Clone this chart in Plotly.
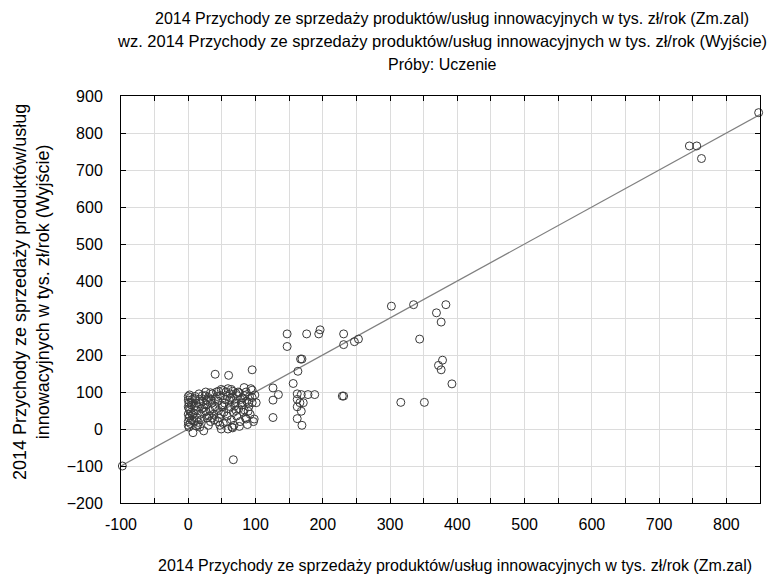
import plotly.graph_objects as go

out_x = [848, 745, 756, 763, -98,
         302, 335, 383, 369, 376, 344, 378, 372, 376, 392, 316, 351,
         147, 176, 196, 194, 231, 147, 231, 247, 253,
         167, 169, 163, 156, 95, 126, 134, 126, 126, 98, 95, 95, 101,
         162, 168, 178, 188, 162, 166, 171, 162, 168, 162, 169, 229, 231,
         40, 60, 49, 59, 64, 83, 93, 76, 90, 81, 86, 89,
         7, 23, 17, 49, 59, 66, 76, 67]
out_y = [855, 765, 765, 731, -100,
         332, 336, 336, 314, 289, 243, 186, 172, 160, 122, 72, 72,
         257, 257, 268, 257, 257, 223, 228, 236, 243,
         189, 189, 156, 123, 160, 111, 93, 78, 31, 27, 105, 71, 71,
         95, 93, 93, 93, 80, 71, 71, 60, 48, 28, 10, 89, 89,
         148, 145, 107, 109, 107, 112, 109, 98, 72, 84, 27, 48,
         -10, -5, 5, 0, 0, 3, 7, -83]

cluster_x = [0, 0, 1, 0, 2, 0, 1, 0, 3, 2, 5, 4, 5, 3, 6, 1, 2, 0, 1, 4,
             10, 12, 11, 13, 15, 14, 17, 18, 16, 19, 20, 12, 22, 9, 8, 21,
             25, 27, 24, 28, 30, 32, 33, 35, 36, 38, 40, 30, 26, 34, 39, 37, 29, 31,
             42, 44, 45, 46, 48, 50, 52, 53, 55, 56, 58, 60, 47, 57, 54, 49, 43, 51,
             62, 63, 64, 66, 67, 68, 70, 72, 74, 75, 77, 78, 65, 73, 69, 71,
             80, 82, 84, 85, 87, 88, 90, 92, 95, 97, 83, 79,
             6, 8, 14, 23, 26, 41, 44, 61, 58, 36, 18, 10,
             52, 66, 71, 86, 91, 99, 33, 45, 27, 63]
cluster_y = [10, 20, 30, 40, 50, 60, 70, 78, 85, 92, 25, 45, 65, 15, 80, 55, 35, 88, 5, 72,
             88, 70, 50, 30, 18, 60, 80, 40, 95, 25, 55, 8, 75, 62, 42, 90,
             90, 65, 45, 30, 85, 50, 20, 70, 95, 40, 60, 10, 100, 80, 25, 55, 75, 35,
             100, 75, 50, 30, 90, 65, 15, 45, 80, 100, 35, 55, 10, 20, 70, 40, 88, 60,
             95, 60, 25, 85, 45, 10, 70, 35, 100, 55, 20, 80, 5, 90, 62, 50,
             65, 45, 90, 30, 75, 12, 60, 40, 85, 20, 52, 70,
             38, 22, 12, 58, 48, 82, 20, 78, 88, 30, 68, 82,
             104, 102, 96, 100, 88, 92, 98, 102, 78, 84]

fit_x = [-100, 850]
fit_y = [-100, 850]

x_ticks = list(range(-100, 851, 50))
x_labels = [str(v) if v % 100 == 0 else "" for v in x_ticks]
y_ticks = list(range(-200, 901, 100))

title_lines = [
    "2014 Przychody ze sprzedaży produktów/usług innowacyjnych w tys. zł/rok (Zm.zal)",
    "wz. 2014 Przychody ze sprzedaży produktów/usług innowacyjnych w tys. zł/rok (Wyjście)",
    "Próby: Uczenie",
]
x_title = "2014 Przychody ze sprzedaży produktów/usług innowacyjnych w tys. zł/rok (Zm.zal)"
y_title = "2014 Przychody ze sprzedaży produktów/usług<br>innowacyjnych w tys. zł/rok (Wyjście)"

FONT = "Liberation Sans, Arial, sans-serif"
TXT = 16

fig = go.Figure()
fig.add_trace(go.Scatter(x=fit_x, y=fit_y, mode="lines",
                         line=dict(color="#808080", width=1.3),
                         hoverinfo="skip", showlegend=False))
fig.add_trace(go.Scatter(x=out_x + cluster_x, y=out_y + cluster_y, mode="markers",
                         marker=dict(symbol="circle-open", size=8,
                                     color="#3a3a3a", line=dict(width=1)),
                         cliponaxis=False, showlegend=False))

W, H = 771, 581
L, R, T, B = 121, 11, 96, 78
pw, ph = W - L - R, H - T - B

axis_common = dict(showline=True, linecolor="black", linewidth=1, mirror="ticks",
                   ticks="inside", ticklen=5, tickcolor="black",
                   showgrid=True, gridcolor="#dcdcdc", gridwidth=1, zeroline=False,
                   tickfont=dict(family=FONT, size=16, color="black"))

fig.update_xaxes(range=[-100, 850], tickmode="array", tickvals=x_ticks,
                 ticktext=x_labels, ticklabelstandoff=7, **axis_common)
fig.update_yaxes(range=[-200, 900], tickmode="array", tickvals=y_ticks,
                 ticklabelstandoff=14, **axis_common)


def px_x(p):
    return (p - L) / pw


def px_y(p):
    return (T + ph - p) / ph


annotations = []
title_cx = [452, 442, 442]
title_sz = [16, 16.5, 16]
for i, line in enumerate(title_lines):
    annotations.append(dict(text=line, xref="paper", yref="paper",
                            x=px_x(title_cx[i]), y=px_y(18 + 23 * i),
                            xanchor="center", yanchor="middle", showarrow=False,
                            font=dict(family=FONT, size=title_sz[i], color="black")))
annotations.append(dict(text=x_title, xref="paper", yref="paper",
                        x=px_x(455), y=px_y(565),
                        xanchor="center", yanchor="middle", showarrow=False,
                        font=dict(family=FONT, size=TXT, color="black")))
annotations.append(dict(text=y_title, xref="paper", yref="paper",
                        x=px_x(31), y=px_y(292), textangle=-90,
                        xanchor="center", yanchor="middle", showarrow=False,
                        font=dict(family=FONT, size=18, color="black")))

fig.update_layout(width=W, height=H, margin=dict(l=L, r=R, t=T, b=B),
                  paper_bgcolor="white", plot_bgcolor="white",
                  annotations=annotations, showlegend=False)

fig.write_html("out.html")
